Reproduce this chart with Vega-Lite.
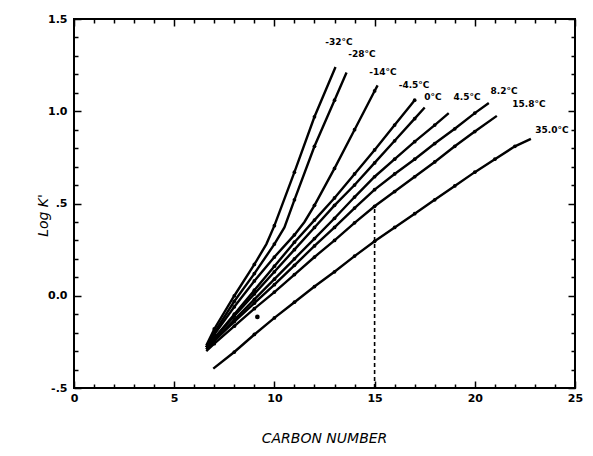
{
  "$schema": "https://vega.github.io/schema/vega-lite/v6.json",
  "width": 501,
  "height": 369,
  "autosize": {"type": "none"},
  "padding": {"left": 74, "top": 19, "right": 18, "bottom": 68},
  "background": "white",
  "config": {
    "view": {"stroke": "black", "strokeWidth": 2},
    "axis": {
      "domain": false,
      "grid": false,
      "tickColor": "black",
      "tickWidth": 1.5,
      "labelFont": "DejaVu Sans",
      "labelFontWeight": "bold",
      "labelFontSize": 11,
      "labelColor": "black",
      "labelFlush": false,
      "labelOverlap": false,
      "titleColor": "black"
    }
  },
  "datasets": {
    "curves": [
      {"temp": "-32", "carbon": 6.6, "logk": -0.27},
      {"temp": "-32", "carbon": 7, "logk": -0.18},
      {"temp": "-32", "carbon": 8, "logk": 0.0},
      {"temp": "-32", "carbon": 9, "logk": 0.17},
      {"temp": "-32", "carbon": 9.6, "logk": 0.28},
      {"temp": "-32", "carbon": 10, "logk": 0.38},
      {"temp": "-32", "carbon": 11, "logk": 0.67},
      {"temp": "-32", "carbon": 12, "logk": 0.97},
      {"temp": "-32", "carbon": 13.05, "logk": 1.24},

      {"temp": "-28", "carbon": 6.6, "logk": -0.28},
      {"temp": "-28", "carbon": 7, "logk": -0.2},
      {"temp": "-28", "carbon": 8, "logk": -0.03},
      {"temp": "-28", "carbon": 9, "logk": 0.12},
      {"temp": "-28", "carbon": 10, "logk": 0.28},
      {"temp": "-28", "carbon": 10.5, "logk": 0.37},
      {"temp": "-28", "carbon": 11, "logk": 0.52},
      {"temp": "-28", "carbon": 12, "logk": 0.81},
      {"temp": "-28", "carbon": 13, "logk": 1.06},
      {"temp": "-28", "carbon": 13.6, "logk": 1.21},

      {"temp": "-14", "carbon": 6.6, "logk": -0.28},
      {"temp": "-14", "carbon": 7, "logk": -0.21},
      {"temp": "-14", "carbon": 8, "logk": -0.06},
      {"temp": "-14", "carbon": 9, "logk": 0.08},
      {"temp": "-14", "carbon": 10, "logk": 0.21},
      {"temp": "-14", "carbon": 11, "logk": 0.33},
      {"temp": "-14", "carbon": 11.5, "logk": 0.4},
      {"temp": "-14", "carbon": 12, "logk": 0.49},
      {"temp": "-14", "carbon": 13, "logk": 0.69},
      {"temp": "-14", "carbon": 14, "logk": 0.9},
      {"temp": "-14", "carbon": 15, "logk": 1.11},
      {"temp": "-14", "carbon": 15.15, "logk": 1.14},

      {"temp": "-4.5", "carbon": 6.6, "logk": -0.28},
      {"temp": "-4.5", "carbon": 7, "logk": -0.23},
      {"temp": "-4.5", "carbon": 8, "logk": -0.1},
      {"temp": "-4.5", "carbon": 9, "logk": 0.03},
      {"temp": "-4.5", "carbon": 10, "logk": 0.16},
      {"temp": "-4.5", "carbon": 11, "logk": 0.29},
      {"temp": "-4.5", "carbon": 12, "logk": 0.41},
      {"temp": "-4.5", "carbon": 13, "logk": 0.53},
      {"temp": "-4.5", "carbon": 14, "logk": 0.66},
      {"temp": "-4.5", "carbon": 15, "logk": 0.79},
      {"temp": "-4.5", "carbon": 16, "logk": 0.925},
      {"temp": "-4.5", "carbon": 17, "logk": 1.06},

      {"temp": "0", "carbon": 6.6, "logk": -0.28},
      {"temp": "0", "carbon": 7, "logk": -0.23},
      {"temp": "0", "carbon": 8, "logk": -0.11},
      {"temp": "0", "carbon": 9, "logk": 0.01},
      {"temp": "0", "carbon": 10, "logk": 0.13},
      {"temp": "0", "carbon": 11, "logk": 0.25},
      {"temp": "0", "carbon": 12, "logk": 0.37},
      {"temp": "0", "carbon": 13, "logk": 0.49},
      {"temp": "0", "carbon": 14, "logk": 0.6},
      {"temp": "0", "carbon": 15, "logk": 0.72},
      {"temp": "0", "carbon": 16, "logk": 0.84},
      {"temp": "0", "carbon": 17, "logk": 0.96},
      {"temp": "0", "carbon": 17.5, "logk": 1.02},

      {"temp": "4.5", "carbon": 6.6, "logk": -0.29},
      {"temp": "4.5", "carbon": 7, "logk": -0.24},
      {"temp": "4.5", "carbon": 8, "logk": -0.13},
      {"temp": "4.5", "carbon": 9, "logk": -0.02},
      {"temp": "4.5", "carbon": 10, "logk": 0.09},
      {"temp": "4.5", "carbon": 11, "logk": 0.2},
      {"temp": "4.5", "carbon": 12, "logk": 0.31},
      {"temp": "4.5", "carbon": 13, "logk": 0.42},
      {"temp": "4.5", "carbon": 14, "logk": 0.535},
      {"temp": "4.5", "carbon": 15, "logk": 0.645},
      {"temp": "4.5", "carbon": 16, "logk": 0.74},
      {"temp": "4.5", "carbon": 17, "logk": 0.835},
      {"temp": "4.5", "carbon": 18, "logk": 0.925},
      {"temp": "4.5", "carbon": 18.7, "logk": 0.99},

      {"temp": "8.2", "carbon": 6.6, "logk": -0.29},
      {"temp": "8.2", "carbon": 7, "logk": -0.245},
      {"temp": "8.2", "carbon": 8, "logk": -0.14},
      {"temp": "8.2", "carbon": 9, "logk": -0.04},
      {"temp": "8.2", "carbon": 10, "logk": 0.06},
      {"temp": "8.2", "carbon": 11, "logk": 0.165},
      {"temp": "8.2", "carbon": 12, "logk": 0.27},
      {"temp": "8.2", "carbon": 13, "logk": 0.37},
      {"temp": "8.2", "carbon": 14, "logk": 0.475},
      {"temp": "8.2", "carbon": 15, "logk": 0.575},
      {"temp": "8.2", "carbon": 16, "logk": 0.66},
      {"temp": "8.2", "carbon": 17, "logk": 0.74},
      {"temp": "8.2", "carbon": 18, "logk": 0.825},
      {"temp": "8.2", "carbon": 19, "logk": 0.905},
      {"temp": "8.2", "carbon": 20, "logk": 0.99},
      {"temp": "8.2", "carbon": 20.7, "logk": 1.045},

      {"temp": "15.8", "carbon": 6.6, "logk": -0.3},
      {"temp": "15.8", "carbon": 7, "logk": -0.26},
      {"temp": "15.8", "carbon": 8, "logk": -0.165},
      {"temp": "15.8", "carbon": 9, "logk": -0.07},
      {"temp": "15.8", "carbon": 10, "logk": 0.02},
      {"temp": "15.8", "carbon": 11, "logk": 0.115},
      {"temp": "15.8", "carbon": 12, "logk": 0.21},
      {"temp": "15.8", "carbon": 13, "logk": 0.3},
      {"temp": "15.8", "carbon": 14, "logk": 0.395},
      {"temp": "15.8", "carbon": 15, "logk": 0.485},
      {"temp": "15.8", "carbon": 16, "logk": 0.565},
      {"temp": "15.8", "carbon": 17, "logk": 0.645},
      {"temp": "15.8", "carbon": 18, "logk": 0.725},
      {"temp": "15.8", "carbon": 19, "logk": 0.81},
      {"temp": "15.8", "carbon": 20, "logk": 0.89},
      {"temp": "15.8", "carbon": 21.1, "logk": 0.975},

      {"temp": "35.0", "carbon": 6.95, "logk": -0.395},
      {"temp": "35.0", "carbon": 8, "logk": -0.305},
      {"temp": "35.0", "carbon": 9, "logk": -0.21},
      {"temp": "35.0", "carbon": 10, "logk": -0.12},
      {"temp": "35.0", "carbon": 11, "logk": -0.035},
      {"temp": "35.0", "carbon": 12, "logk": 0.05},
      {"temp": "35.0", "carbon": 13, "logk": 0.13},
      {"temp": "35.0", "carbon": 14, "logk": 0.215},
      {"temp": "35.0", "carbon": 15, "logk": 0.295},
      {"temp": "35.0", "carbon": 16, "logk": 0.37},
      {"temp": "35.0", "carbon": 17, "logk": 0.445},
      {"temp": "35.0", "carbon": 18, "logk": 0.52},
      {"temp": "35.0", "carbon": 19, "logk": 0.595},
      {"temp": "35.0", "carbon": 20, "logk": 0.67},
      {"temp": "35.0", "carbon": 21, "logk": 0.74},
      {"temp": "35.0", "carbon": 22, "logk": 0.81},
      {"temp": "35.0", "carbon": 22.8, "logk": 0.85}
    ],
    "stray": [
      {"carbon": 9.15, "logk": -0.115}
    ],
    "readout": [
      {"carbon": 15, "lo": -0.5, "hi": 0.485}
    ],
    "labels": [
      {"label": "-32°C", "carbon": 13.22, "logk": 1.377},
      {"label": "-28°C", "carbon": 14.37, "logk": 1.311},
      {"label": "-14°C", "carbon": 15.42, "logk": 1.214},
      {"label": "-4.5°C", "carbon": 16.97, "logk": 1.143},
      {"label": "0°C", "carbon": 17.91, "logk": 1.078},
      {"label": "4.5°C", "carbon": 19.61, "logk": 1.078},
      {"label": "8.2°C", "carbon": 21.46, "logk": 1.11},
      {"label": "15.8°C", "carbon": 22.7, "logk": 1.04},
      {"label": "35.0°C", "carbon": 23.85, "logk": 0.899}
    ]
  },
  "layer": [
    {
      "data": {"name": "curves"},
      "mark": {"type": "line", "color": "black", "strokeWidth": 2.4},
      "encoding": {
        "x": {
          "field": "carbon",
          "type": "quantitative",
          "scale": {"domain": [0, 25], "nice": false, "zero": false},
          "axis": {
            "orient": "bottom",
            "values": [0, 1, 2, 3, 4, 5, 6, 7, 8, 9, 10, 11, 12, 13, 14, 15, 16, 17, 18, 19, 20, 21, 22, 23, 24, 25],
            "tickSize": {"condition": {"test": "datum.value % 5 === 0", "value": -7}, "value": -4},
            "labelExpr": "datum.value % 5 === 0 ? datum.label : ''",
            "labelPadding": 11,
            "title": "CARBON NUMBER",
            "titleFont": "DejaVu Sans",
            "titleFontStyle": "italic",
            "titleFontWeight": "normal",
            "titleFontSize": 14,
            "titleBaseline": "middle",
            "titleX": 250,
            "titleY": 50
          }
        },
        "y": {
          "field": "logk",
          "type": "quantitative",
          "scale": {"domain": [-0.5, 1.5], "nice": false, "zero": false},
          "axis": {
            "orient": "left",
            "values": [-0.5, -0.4, -0.3, -0.2, -0.1, 0, 0.1, 0.2, 0.3, 0.4, 0.5, 0.6, 0.7, 0.8, 0.9, 1.0, 1.1, 1.2, 1.3, 1.4, 1.5],
            "tickSize": {"condition": {"test": "abs(datum.value * 2 - round(datum.value * 2)) < 0.001", "value": -7}, "value": -4},
            "labelExpr": "abs(datum.value * 2 - round(datum.value * 2)) > 0.001 ? '' : abs(datum.value - 0.5) < 0.001 ? '.5' : abs(datum.value + 0.5) < 0.001 ? '-.5' : format(datum.value, '.1f')",
            "labelPadding": 14,
            "title": "Log K'",
            "titleFont": "DejaVu Sans",
            "titleFontStyle": "italic",
            "titleFontWeight": "normal",
            "titleFontSize": 14,
            "titleAngle": -90,
            "titleBaseline": "middle",
            "titleX": -31,
            "titleY": 196
          }
        },
        "detail": {"field": "temp"}
      }
    },
    {
      "data": {"name": "curves"},
      "transform": [{"filter": "datum.carbon % 1 === 0"}],
      "mark": {"type": "point", "filled": true, "color": "black", "size": 14, "opacity": 1},
      "encoding": {
        "x": {"field": "carbon", "type": "quantitative", "axis": null},
        "y": {"field": "logk", "type": "quantitative", "axis": null}
      }
    },
    {
      "data": {"name": "stray"},
      "mark": {"type": "point", "filled": true, "color": "black", "size": 22, "opacity": 1},
      "encoding": {
        "x": {"field": "carbon", "type": "quantitative", "axis": null},
        "y": {"field": "logk", "type": "quantitative", "axis": null}
      }
    },
    {
      "data": {"name": "readout"},
      "mark": {"type": "rule", "color": "black", "strokeWidth": 1.6, "strokeDash": [4, 3]},
      "encoding": {
        "x": {
          "field": "carbon",
          "type": "quantitative",
          "axis": {
            "orient": "top",
            "values": [0, 1, 2, 3, 4, 5, 6, 7, 8, 9, 10, 11, 12, 13, 14, 15, 16, 17, 18, 19, 20, 21, 22, 23, 24, 25],
            "tickSize": {"condition": {"test": "datum.value % 5 === 0", "value": -7}, "value": -4},
            "labels": false,
            "title": null
          }
        },
        "y": {
          "field": "lo",
          "type": "quantitative",
          "axis": {
            "orient": "right",
            "values": [-0.5, -0.4, -0.3, -0.2, -0.1, 0, 0.1, 0.2, 0.3, 0.4, 0.5, 0.6, 0.7, 0.8, 0.9, 1.0, 1.1, 1.2, 1.3, 1.4, 1.5],
            "tickSize": {"condition": {"test": "abs(datum.value * 2 - round(datum.value * 2)) < 0.001", "value": -7}, "value": -4},
            "labels": false,
            "title": null
          }
        },
        "y2": {"field": "hi"}
      }
    },
    {
      "data": {"name": "labels"},
      "mark": {"type": "text", "font": "DejaVu Sans", "fontWeight": "bold", "fontSize": 9, "color": "black", "align": "center", "baseline": "middle"},
      "encoding": {
        "x": {"field": "carbon", "type": "quantitative", "axis": null},
        "y": {"field": "logk", "type": "quantitative", "axis": null},
        "text": {"field": "label"}
      }
    }
  ],
  "resolve": {"axis": {"x": "independent", "y": "independent"}}
}
